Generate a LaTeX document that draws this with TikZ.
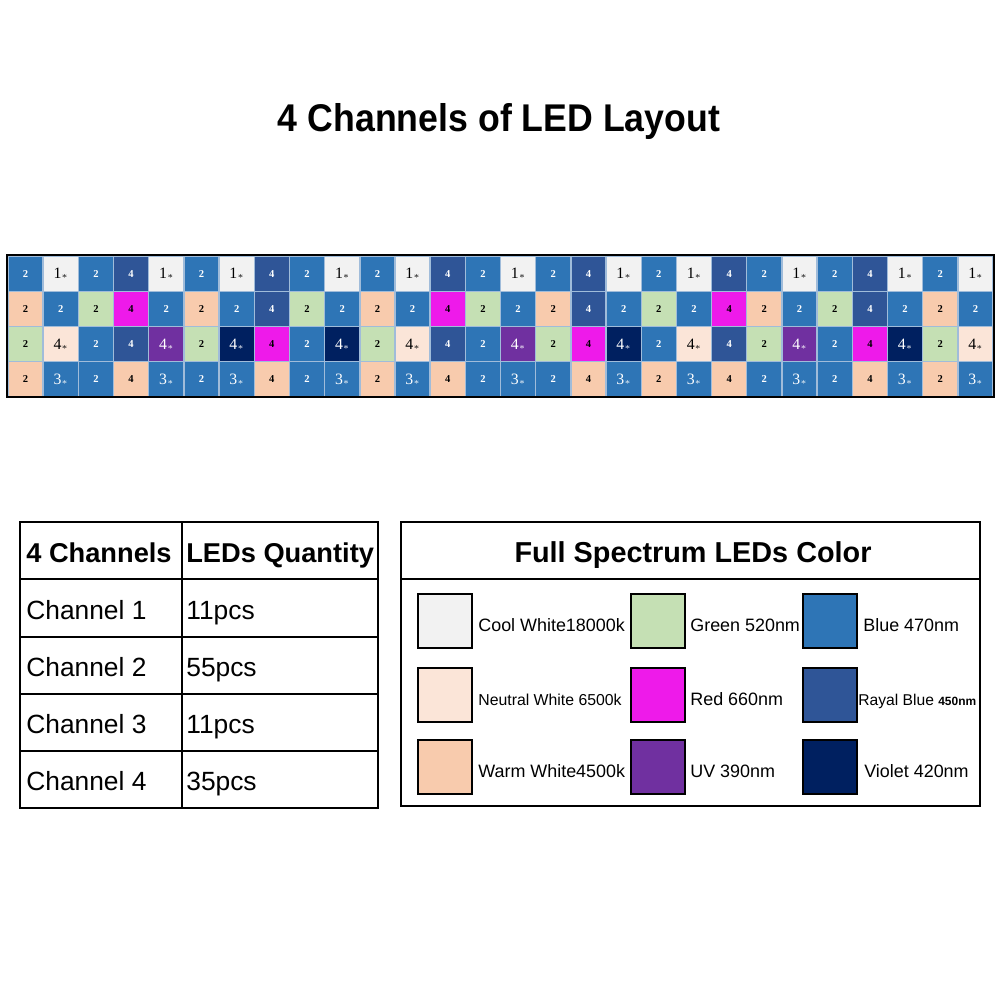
\documentclass[tikz,border=0pt]{standalone}
\usepackage{fontspec}
\usepackage{graphicx}
\newfontfamily\arial{Liberation Sans}
\newfontfamily\ledfont{Liberation Serif}
\usetikzlibrary{positioning}
\definecolor{coolwhite}{RGB}{242,242,242}
\definecolor{neutralwhite}{RGB}{251,229,216}
\definecolor{warmwhite}{RGB}{248,203,173}
\definecolor{green520}{RGB}{197,224,180}
\definecolor{blue470}{RGB}{46,117,182}
\definecolor{royal450}{RGB}{47,85,151}
\definecolor{red660}{RGB}{238,26,234}
\definecolor{uv390}{RGB}{112,48,160}
\definecolor{violet420}{RGB}{0,32,96}
\definecolor{gridline}{RGB}{160,188,218}
\newcommand\st[1]{{\fontsize{9}{9}\selectfont\mdseries #1}{\fontsize{5.5}{5.5}\selectfont$\ast$}}
\tikzset{
  cell/.style={draw=gridline,line width=0.8pt,minimum width=7.04mm,minimum height=7.05mm,
    inner sep=0pt,font=\ledfont\bfseries\fontsize{6}{6}\selectfont},
  led W/.style={cell,fill=coolwhite,text=black},
  led N/.style={cell,fill=neutralwhite,text=black},
  led A/.style={cell,fill=warmwhite,text=black},
  led G/.style={cell,fill=green520,text=black},
  led B/.style={cell,fill=blue470,text=white},
  led R/.style={cell,fill=royal450,text=white},
  led M/.style={cell,fill=red660,text=black},
  led U/.style={cell,fill=uv390,text=white},
  led V/.style={cell,fill=violet420,text=white},
  frame/.style={draw=black,line width=1.2pt},
  th/.style={anchor=base west,inner sep=0pt,font=\arial\bfseries\fontsize{15.5}{18}\selectfont},
  td/.style={anchor=base west,inner sep=0pt,font=\arial\fontsize{15}{18}\selectfont},
  swatch/.style={draw=black,line width=0.6pt,fill=#1,minimum size=10.8mm,inner sep=0pt},
  swlabel/.style={anchor=base west,inner sep=0pt,font=\arial\fontsize{10.2}{12}\selectfont},
}

\begin{document}
\begin{tikzpicture}[x=0.02cm,y=-0.02cm]
  \useasboundingbox (0,0) rectangle (1000,1000);
  \node[anchor=base,inner sep=0pt,font=\arial\bfseries\fontsize{22}{26}\selectfont] (title) at (499,132)
    {\scalebox{0.923}[1]{4 Channels of LED Layout}};
  % LED strip, one loop per row
  \foreach \c/\t [count=\i] in {B/2,W/\st1,B/2,R/4,W/\st1,B/2,W/\st1,R/4,B/2,W/\st1,B/2,W/\st1,R/4,B/2,
      W/\st1,B/2,R/4,W/\st1,B/2,W/\st1,R/4,B/2,W/\st1,B/2,R/4,W/\st1,B/2,W/\st1}
    \node[led \c] (r1c\i) at ({8+35.18*(\i-0.5)},273.6) {\t};
  \foreach \c/\t [count=\i] in {A/2,B/2,G/2,M/4,B/2,A/2,B/2,R/4,G/2,B/2,A/2,B/2,M/4,G/2,
      B/2,A/2,R/4,B/2,G/2,B/2,M/4,A/2,B/2,G/2,R/4,B/2,A/2,B/2}
    \node[led \c] (r2c\i) at ({8+35.18*(\i-0.5)},308.9) {\t};
  \foreach \c/\t [count=\i] in {G/2,N/\st4,B/2,R/4,U/\st4,G/2,V/\st4,M/4,B/2,V/\st4,G/2,N/\st4,R/4,B/2,
      U/\st4,G/2,M/4,V/\st4,B/2,N/\st4,R/4,G/2,U/\st4,B/2,M/4,V/\st4,G/2,N/\st4}
    \node[led \c] (r3c\i) at ({8+35.18*(\i-0.5)},344.1) {\t};
  \foreach \c/\t [count=\i] in {A/2,B/\st3,B/2,A/4,B/\st3,B/2,B/\st3,A/4,B/2,B/\st3,A/2,B/\st3,A/4,B/2,
      B/\st3,B/2,A/4,B/\st3,A/2,B/\st3,A/4,B/2,B/\st3,B/2,A/4,B/\st3,A/2,B/\st3}
    \node[led \c] (r4c\i) at ({8+35.18*(\i-0.5)},379.4) {\t};
  \draw[frame] (7,255) rectangle (994,397);

  % channel table
  \draw[frame] (20,522) rectangle (378,808);
  \draw[frame] (182,522) -- (182,808);
  \foreach \y in {579,637,694,751} \draw[frame] (20,\y) -- (378,\y);
  \node[th] (hch) at (26,562) {4 Channels};
  \node[th] (hqt) at (186,562) {LEDs Quantity};
  \foreach \n/\q/\y in {1/11pcs/619,2/55pcs/676,3/11pcs/733,4/35pcs/790}{
    \node[td] (ch\n) at (26,\y) {Channel \n};
    \node[td] (qt\n) at (186,\y) {\q};
  }

  % colour legend
  \draw[frame] (401,522) rectangle (980,806);
  \draw[frame] (401,579) -- (980,579);
  \node[anchor=base,inner sep=0pt,font=\arial\bfseries\fontsize{16.4}{19}\selectfont] (spec) at (693,562)
    {Full Spectrum LEDs Color};
  \foreach \col/\lab/\x/\y/\lx [count=\k] in {
      coolwhite/Cool White18000k/445/621/478,
      neutralwhite/{\fontsize{9}{11}\selectfont Neutral White 6500k}/445/695/478,
      warmwhite/Warm White4500k/445/767/478,
      green520/Green 520nm/658/621/690,
      red660/Red 660nm/658/695/690,
      uv390/UV 390nm/658/767/690,
      blue470/Blue 470nm/830/621/863,
      royal450/{\fontsize{8.9}{11}\selectfont Rayal Blue {\bfseries\fontsize{6.8}{9}\selectfont 450nm}}/830/695/858,
      violet420/Violet 420nm/830/767/864}{
    \node[swatch=\col] (sw\k) at (\x,\y) {};
    \node[swlabel] (lb\k) at (\lx,\y+10) {\lab};
  }
\end{tikzpicture}
\end{document}
